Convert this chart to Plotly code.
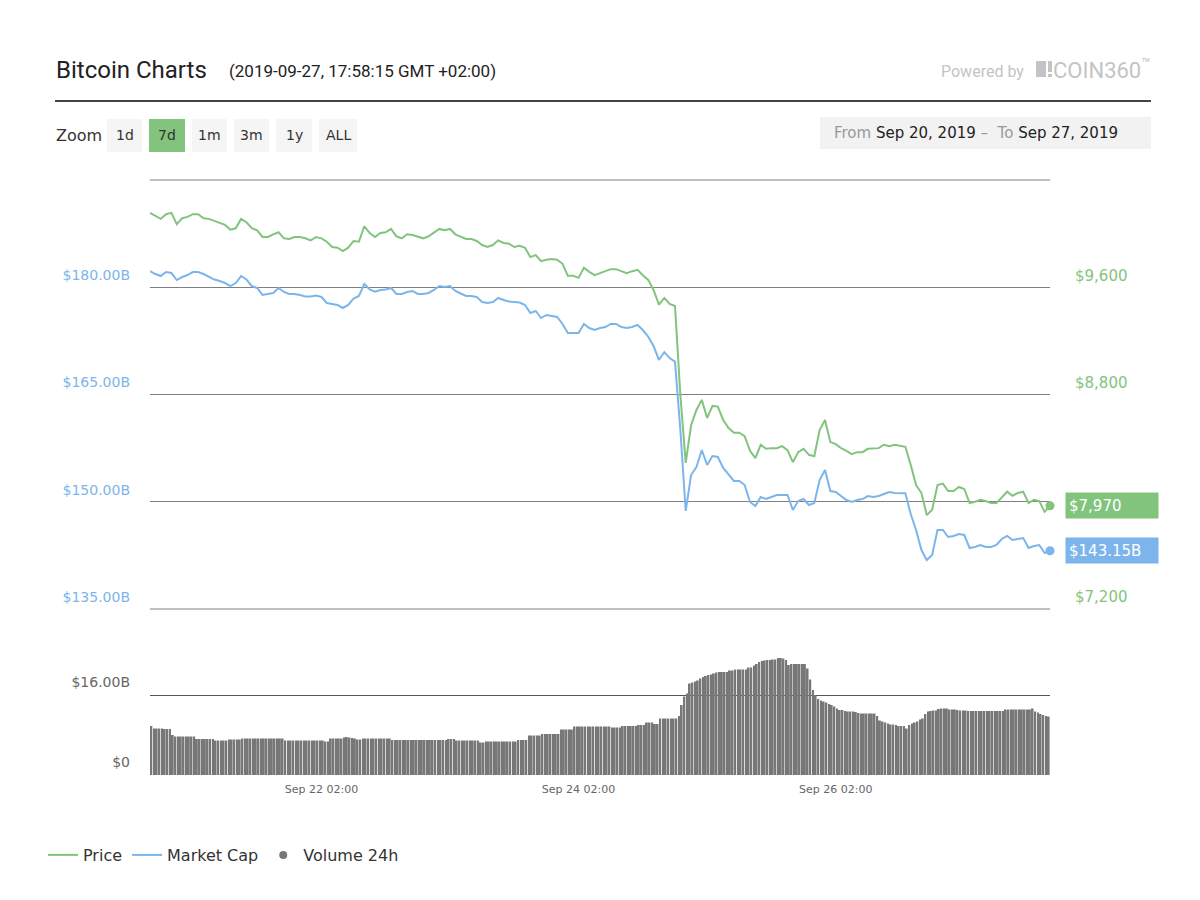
import pandas as pd
from plotly import graph_objects as go

# hourly, Sep 20 18:00 -> Sep 27 18:00 (GMT+2)
price = [
    10155, 10130, 10110, 10145, 10155, 10070, 10115, 10125, 10145, 10145,
    10115, 10110, 10095, 10080, 10065, 10030, 10040, 10110, 10085, 10040,
    10025, 9975, 9975, 9995, 10010, 9965, 9960, 9975, 9975, 9965,
    9950, 9975, 9965, 9940, 9900, 9895, 9870, 9895, 9945, 9940,
    10055, 10005, 9975, 10005, 10010, 10035, 9980, 9965, 9995, 9990,
    9980, 9965, 9980, 10005, 10035, 10025, 10035, 9995, 9975, 9960,
    9960, 9945, 9915, 9900, 9915, 9950, 9930, 9925, 9900, 9910,
    9895, 9825, 9840, 9795, 9805, 9810, 9805, 9775, 9685, 9685,
    9670, 9745, 9715, 9690, 9705, 9720, 9735, 9735, 9720, 9705,
    9720, 9730, 9690, 9655, 9580, 9470, 9520, 9475, 9460, 8795,
    8290, 8570, 8685, 8760, 8625, 8715, 8710, 8610, 8550, 8515,
    8515, 8490, 8380, 8325, 8425, 8395, 8400, 8400, 8415, 8385,
    8295, 8370, 8395, 8350, 8340, 8535, 8610, 8445, 8430, 8400,
    8380, 8355, 8370, 8370, 8395, 8400, 8400, 8425, 8415, 8425,
    8415, 8410, 8275, 8125, 8065, 7900, 7940, 8125, 8135, 8080,
    8080, 8110, 8095, 7990, 8000, 8015, 8005, 7990, 7990, 8035,
    8075, 8045, 8065, 8075, 7990, 8015, 8005, 7925, 7970,
]

market_cap = [
    182.27, 181.85, 181.57, 182.13, 181.99, 181.01, 181.43, 181.71, 182.13, 182.13,
    181.85, 181.43, 181.08, 180.87, 180.59, 180.17, 180.59, 181.57, 181.08, 180.17,
    179.90, 178.92, 179.06, 179.20, 179.90, 179.34, 179.06, 179.06, 178.92, 178.71,
    178.71, 178.85, 178.64, 177.80, 177.66, 177.52, 177.10, 177.52, 178.43, 178.78,
    180.45, 179.71, 179.38, 179.62, 179.69, 179.90, 179.06, 179.06, 179.34, 179.48,
    179.06, 179.06, 179.20, 179.62, 180.17, 180.03, 180.17, 179.48, 179.13, 178.78,
    178.78, 178.64, 177.94, 177.80, 177.94, 178.50, 178.22, 178.01, 177.94, 177.87,
    177.52, 176.40, 176.68, 175.70, 176.12, 175.98, 175.84, 174.86, 173.60, 173.60,
    173.60, 174.86, 174.30, 174.02, 174.30, 174.44, 174.86, 174.86, 174.44, 174.30,
    174.44, 174.72, 174.02, 173.08, 171.78, 169.83, 170.94, 170.10, 169.59, 160.04,
    148.71, 153.74, 154.86, 157.24, 155.14, 156.40, 156.26, 154.72, 153.74, 152.90,
    152.90, 152.34, 149.97, 149.41, 150.66, 150.38, 150.66, 150.94, 150.94, 150.94,
    148.85, 150.10, 150.38, 149.55, 149.83, 153.04, 154.44, 151.50, 151.36, 150.80,
    150.24, 149.97, 150.24, 150.38, 150.80, 150.66, 150.80, 151.08, 151.36, 151.22,
    151.22, 151.18, 148.29, 146.05, 143.25, 141.85, 142.55, 146.05, 146.05, 145.07,
    145.21, 145.49, 145.35, 143.53, 143.67, 143.95, 143.67, 143.67, 143.95, 144.79,
    145.21, 144.65, 144.79, 144.93, 143.53, 143.81, 143.95, 142.83, 143.15,
]

# 24h volume (billions USD), 30 min bars
volume = [
    9.8, 9.3, 9.3, 9.3, 9.3, 9.2, 9.2, 9.2, 8.0, 7.7,
    7.7, 7.7, 7.7, 7.7, 7.7, 7.7, 7.7, 7.2, 7.2, 7.2,
    7.2, 7.2, 7.2, 7.2, 6.9, 6.9, 6.9, 6.9, 6.9, 7.1,
    7.1, 7.1, 7.1, 7.1, 7.3, 7.3, 7.3, 7.3, 7.3, 7.3,
    7.3, 7.3, 7.3, 7.3, 7.3, 7.3, 7.3, 7.3, 7.3, 7.3,
    6.9, 6.9, 6.9, 6.9, 6.9, 6.9, 6.9, 6.9, 6.9, 6.9,
    6.9, 6.9, 6.9, 6.9, 6.9, 6.7, 6.7, 7.3, 7.3, 7.3,
    7.3, 7.3, 7.5, 7.6, 7.5, 7.4, 7.3, 7.1, 7.1, 7.3,
    7.3, 7.3, 7.3, 7.3, 7.3, 7.3, 7.3, 7.3, 7.3, 7.3,
    7.0, 7.0, 7.0, 7.0, 7.0, 7.0, 7.0, 7.0, 7.0, 7.0,
    7.0, 7.0, 7.0, 7.0, 7.0, 7.0, 7.0, 7.0, 7.0, 7.0,
    7.0, 7.2, 7.2, 7.2, 6.9, 6.9, 6.9, 6.9, 6.9, 6.9,
    6.9, 6.9, 6.9, 6.5, 6.5, 6.7, 6.7, 6.7, 6.7, 6.7,
    6.7, 6.7, 6.7, 6.7, 6.7, 6.7, 6.7, 7.0, 7.0, 7.0,
    7.0, 7.9, 7.9, 7.9, 7.9, 7.9, 8.2, 8.2, 8.2, 8.2,
    8.2, 8.2, 8.2, 9.1, 9.1, 9.1, 9.1, 9.1, 9.7, 9.7,
    9.7, 9.7, 9.7, 9.7, 9.7, 9.7, 9.7, 9.7, 9.7, 9.7,
    9.7, 9.7, 9.5, 9.5, 9.5, 9.5, 9.8, 9.8, 9.8, 9.8,
    9.8, 9.8, 10.0, 10.0, 10.0, 10.5, 10.5, 10.5, 10.2, 10.2,
    11.3, 11.3, 11.3, 11.3, 11.3, 11.3, 11.3, 11.8, 14.0, 15.7,
    16.3, 18.3, 18.5, 18.7, 18.9, 19.3, 19.6, 19.8, 20.0, 20.1,
    20.3, 20.5, 20.6, 20.6, 20.6, 20.6, 20.9, 20.9, 21.1, 21.1,
    21.1, 21.1, 21.1, 21.5, 21.5, 21.9, 22.2, 22.6, 22.8, 22.9,
    23.0, 23.0, 23.1, 23.1, 23.4, 23.4, 23.3, 23.0, 22.0, 22.2,
    22.2, 22.2, 22.2, 22.2, 22.2, 21.3, 19.1, 17.0, 16.0, 15.2,
    14.9, 14.7, 14.5, 14.2, 14.0, 13.7, 13.3, 13.0, 13.0, 12.8,
    12.7, 12.7, 12.7, 12.6, 12.4, 12.3, 12.3, 12.3, 12.3, 12.3,
    12.3, 11.8, 10.9, 10.7, 10.5, 10.3, 10.1, 10.1, 10.0, 9.8,
    9.8, 9.8, 9.3, 10.0, 10.3, 10.5, 10.7, 11.1, 11.3, 12.2,
    12.7, 12.8, 12.9, 12.9, 13.2, 13.3, 13.3, 13.3, 13.1, 13.1,
    13.1, 13.0, 12.9, 12.9, 12.9, 12.8, 12.8, 12.8, 12.8, 12.8,
    12.8, 12.8, 12.8, 12.8, 12.8, 12.8, 12.8, 12.8, 12.8, 13.1,
    13.1, 13.1, 13.1, 13.1, 13.1, 13.1, 13.1, 13.1, 13.1, 13.3,
    12.7, 12.5, 12.2, 12.0, 11.8, 11.7,
]

cap_ticks = [135, 150, 165, 180]
cap_labels = ["$135.00B", "$150.00B", "$165.00B", "$180.00B"]
price_ticks = [7200, 8800, 9600]
price_labels = ["$7,200", "$8,800", "$9,600"]
vol_ticks = [0, 16]
vol_labels = ["$0", "$16.00B"]
date_ticks = ["2019-09-22 02:00", "2019-09-24 02:00", "2019-09-26 02:00"]
zoom_buttons = ["1d", "7d", "1m", "3m", "1y", "ALL"]

GREEN = "#82c47e"
BLUE = "#7cb5ec"
W, H = 1200, 900


def px(x):
    return x / W


def py(y):
    return 1 - y / H


def text(fig, x, y, s, size, color, family="DejaVu Sans", xanchor="left"):
    fig.add_annotation(xref="paper", yref="paper", x=px(x), y=py(y), xanchor=xanchor,
                       yanchor="middle", text=s, showarrow=False,
                       font=dict(family=family, size=size, color=color))


def rect(fig, x0, y0, x1, y1, color, layer="above"):
    fig.add_shape(type="rect", xref="paper", yref="paper", x0=px(x0), x1=px(x1),
                  y0=py(y1), y1=py(y0), fillcolor=color, line_width=0, layer=layer)


def build():
    start = pd.Timestamp("2019-09-20 18:00")
    times = pd.date_range(start, periods=len(price), freq="h")
    vtimes = pd.date_range(start + pd.Timedelta(minutes=15), periods=len(volume), freq="30min")

    fig = go.Figure()
    fig.add_trace(go.Scatter(x=times, y=price, name="Price", mode="lines",
                             line=dict(color=GREEN, width=2), xaxis="x2", yaxis="y2"))
    fig.add_trace(go.Scatter(x=times, y=market_cap, name="Market Cap", mode="lines",
                             line=dict(color=BLUE, width=2), xaxis="x2", yaxis="y"))
    fig.add_trace(go.Bar(x=vtimes, y=volume, name="Volume 24h", marker=dict(color="#777777", line_width=0),
                         xaxis="x", yaxis="y3", showlegend=False))
    # legend entry for volume shows a dot
    fig.add_trace(go.Scatter(x=[None], y=[None], name="Volume 24h", mode="markers",
                             marker=dict(color="#777777", size=8), xaxis="x", yaxis="y3"))
    # end markers
    fig.add_trace(go.Scatter(x=[times[-1]], y=[price[-1]], mode="markers", showlegend=False,
                             marker=dict(color=GREEN, size=9), xaxis="x2", yaxis="y2", cliponaxis=False))
    fig.add_trace(go.Scatter(x=[times[-1]], y=[market_cap[-1]], mode="markers", showlegend=False,
                             marker=dict(color=BLUE, size=9), xaxis="x2", yaxis="y", cliponaxis=False))

    xr = [times[0], times[-1]]
    fig.update_layout(
        width=W, height=H,
        margin=dict(l=0, r=0, t=0, b=0),
        paper_bgcolor="white", plot_bgcolor="white",
        bargap=0.3,
        xaxis=dict(domain=[px(150), px(1050)], anchor="y3", type="date", range=xr,
                   tickvals=date_ticks, tickformat="%b %d %H:%M", showgrid=False,
                   ticks="", showline=False, zeroline=False, ticklabelstandoff=6,
                   tickfont=dict(family="DejaVu Sans", size=11, color="#666")),
        xaxis2=dict(domain=[px(150), px(1050)], anchor="y", type="date", range=xr,
                    matches="x", showticklabels=False, showgrid=False, ticks="", zeroline=False),
        yaxis=dict(domain=[py(609), py(180)], anchor="x2", range=[135, 195],
                   tickvals=cap_ticks, ticktext=cap_labels, showgrid=True,
                   gridcolor="#808080", gridwidth=1, zeroline=False, ticks="",
                   ticklabelshift=-12, ticklabelstandoff=19,
                   tickfont=dict(family="DejaVu Sans", size=14, color=BLUE)),
        yaxis2=dict(overlaying="y", side="right", anchor="x2", range=[7200, 10400],
                    tickvals=price_ticks, ticktext=price_labels, showgrid=False,
                    zeroline=False, ticks="", ticklabelshift=-12, ticklabelstandoff=24,
                    tickfont=dict(family="DejaVu Sans", size=15, color=GREEN)),
        yaxis3=dict(domain=[py(775), py(615)], anchor="x", range=[0, 32],
                    tickvals=vol_ticks, ticktext=vol_labels, showgrid=True,
                    gridcolor="#555555", gridwidth=1, zeroline=False, ticks="",
                    ticklabelshift=-13, ticklabelstandoff=19,
                    tickfont=dict(family="DejaVu Sans", size=14, color="#666")),
        legend=dict(orientation="h", x=px(43), xanchor="left", y=py(855), yanchor="middle",
                    font=dict(family="DejaVu Sans", size=16, color="#333"),
                    itemwidth=30, bgcolor="rgba(0,0,0,0)"),
        showlegend=True,
    )

    # edge grid lines of the main pane (plotly drops grid lines on the plot edges)
    for gy in (180, 609):
        fig.add_shape(type="line", xref="paper", yref="paper", x0=px(150), x1=px(1050),
                      y0=py(gy), y1=py(gy), line=dict(color="#808080", width=1), layer="below")

    # header
    text(fig, 54, 70, "Bitcoin Charts", 24, "#222", "Roboto")
    text(fig, 227, 71, "(2019-09-27, 17:58:15 GMT +02:00)", 17, "#222", "Roboto")
    text(fig, 939, 71, "Powered by", 16, "#c4c4c4", "Roboto")
    rect(fig, 1036, 61, 1046, 77, "#c4c4c4")
    rect(fig, 1048, 61, 1052, 72, "#c4c4c4")
    rect(fig, 1048, 74, 1052, 77, "#c4c4c4")
    text(fig, 1051, 69, "COIN360<sup>™</sup>", 22, "#c4c4c4", "Roboto")
    fig.add_shape(type="line", xref="paper", yref="paper", x0=px(55), x1=px(1151),
                  y0=py(101), y1=py(101), line=dict(color="#444", width=2))

    # zoom buttons
    text(fig, 54, 135, "Zoom", 16, "#333")
    lefts = [107, 149, 192, 234, 276, 319]
    widths = [35, 36, 35, 35, 36, 38]
    for lab, x0, w in zip(zoom_buttons, lefts, widths):
        fill = GREEN if lab == "7d" else "#f5f5f5"
        rect(fig, x0, 119, x0 + w, 152, fill, "below")
        text(fig, x0 + w / 2, 135, lab, 14, "#333", xanchor="center")

    # date range box
    rect(fig, 820, 117, 1151, 149, "#f2f2f2", "below")
    text(fig, 832, 133,
         "<span style='color:#999'>From</span> Sep 20, 2019 "
         "<span style='color:#999'>–  To</span> Sep 27, 2019", 15, "#222")

    # last value badges
    fig.add_annotation(xref="paper", yref="y2", x=px(1065), y=price[-1], xanchor="left",
                       yanchor="middle", text=f"${price[-1]:,.0f}", showarrow=False, bgcolor=GREEN,
                       width=86, height=19, align="left", borderpad=3,
                       font=dict(family="DejaVu Sans", size=15, color="white"))
    fig.add_annotation(xref="paper", yref="y", x=px(1065), y=market_cap[-1], xanchor="left",
                       yanchor="middle", text=f"${market_cap[-1]:.2f}B", showarrow=False, bgcolor=BLUE,
                       width=86, height=19, align="left", borderpad=3,
                       font=dict(family="DejaVu Sans", size=15, color="white"))
    return fig


def main():
    fig = build()
    fig.write_html("out.html", config={"displayModeBar": False},
                   post_script="document.body.style.margin='0';")


if __name__ == "__main__":
    main()
